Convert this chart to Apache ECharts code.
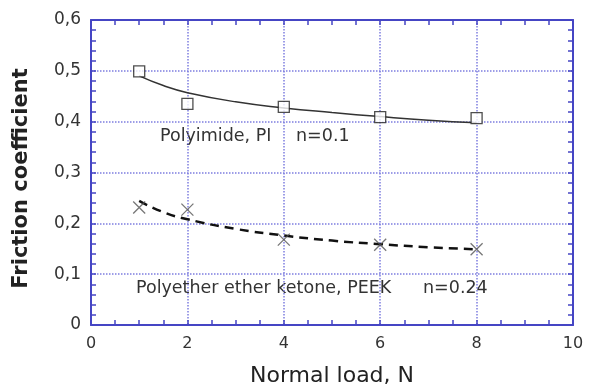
<!DOCTYPE html>
<html><head><meta charset="utf-8">
<script src="https://cdn.jsdelivr.net/npm/echarts@6/dist/echarts.min.js"></script>
<style>html,body{margin:0;padding:0;background:#fff}#c{width:589px;height:392px}</style>
</head><body><div id="c"></div>
<script>
const loads = [1, 2, 4, 6, 8];
const piPoints = [0.499, 0.435, 0.429, 0.409, 0.407];
const peekPoints = [0.231, 0.227, 0.168, 0.158, 0.149];
const fitX = [1, 1.5, 2, 3, 4, 5, 6, 7, 8];
const piFit = [0.490, 0.471, 0.457, 0.439, 0.427, 0.418, 0.410, 0.403, 0.398];
const peekFit = [0.244, 0.222, 0.208, 0.189, 0.176, 0.166, 0.159, 0.153, 0.149];
const xTicks = [0, 2, 4, 6, 8, 10];
const yTicks = [0, 0.1, 0.2, 0.3, 0.4, 0.5, 0.6];

const blue = '#4545c4';
const font = 'DejaVu Sans';
const fmtY = v => v === 0 ? '0' : String(+v.toFixed(1)).replace('.', ',');
const pair = (xs, ys) => xs.map((x, i) => [x, ys[i]]);

const chart = echarts.init(document.getElementById('c'), null, {renderer: 'canvas'});

function tickAxis(kind, position, withLine) {
  const isX = kind === 'x';
  return {
    type: 'value', position: position,
    min: 0, max: isX ? 10 : 0.6, interval: isX ? 0.5 : 0.02,
    axisLine: {show: withLine, onZero: false, lineStyle: {color: blue, width: 2}},
    axisTick: {show: true, inside: true, length: 5, lineStyle: {color: blue, width: 1.5}},
    axisLabel: {show: false}, splitLine: {show: false}
  };
}
const gridLine = {show: true, lineStyle: {color: '#7d7de0', type: 'dotted', width: 1.5}};

chart.setOption({
  animation: false,
  grid: {left: 91, right: 16, top: 20, bottom: 64},
  xAxis: [
    {
      type: 'value', min: 0, max: 10, interval: 2, position: 'bottom',
      axisLine: {show: false, onZero: false}, axisTick: {show: false},
      axisLabel: {color: '#333', fontSize: 16, fontFamily: font, margin: 11},
      splitLine: gridLine,
      name: 'Normal load, N', nameLocation: 'middle', nameGap: 40,
      nameTextStyle: {color: '#222', fontSize: 22, fontFamily: font}
    },
    tickAxis('x', 'bottom', true),
    tickAxis('x', 'top', true)
  ],
  yAxis: [
    {
      type: 'value', min: 0, max: 0.6, interval: 0.1, position: 'left',
      axisLine: {show: false, onZero: false}, axisTick: {show: false},
      axisLabel: {color: '#333', fontSize: 17, fontFamily: font, margin: 10, formatter: fmtY},
      splitLine: gridLine,
      name: 'Friction coefficient', nameLocation: 'middle', nameGap: 59,
      nameTextStyle: {color: '#222', fontSize: 21, fontWeight: 'bold', fontFamily: font, padding: [0, 12, 0, 0]}
    },
    tickAxis('y', 'left', true),
    tickAxis('y', 'right', true)
  ],
  series: [
    {type: 'line', data: pair(fitX, piFit), smooth: true, symbol: 'none',
     lineStyle: {color: '#333', width: 1.5}, z: 2},
    {type: 'line', data: pair(fitX, peekFit), smooth: true, symbol: 'none',
     lineStyle: {color: '#111', width: 2.5, type: [9, 6]}, z: 2},
    {type: 'scatter', data: pair(loads, piPoints), symbol: 'rect', symbolSize: 11,
     itemStyle: {color: '#fff', borderColor: '#222', borderWidth: 1.3}, z: 3},
    {type: 'scatter', data: pair(loads, peekPoints), symbol: 'path://M0,0L10,10M10,0L0,10', symbolSize: 12,
     itemStyle: {color: 'none', borderColor: '#555', borderWidth: 1.3}, z: 3}
  ],
  graphic: [
    {type: 'text', left: 160, top: 127, style: {text: 'Polyimide, PI', fill: '#333', font: '17.5px "DejaVu Sans"'}},
    {type: 'text', left: 296, top: 127, style: {text: 'n=0.1', fill: '#333', font: '17.5px "DejaVu Sans"'}},
    {type: 'text', left: 136, top: 279, style: {text: 'Polyether ether ketone, PEEK', fill: '#333', font: '17.5px "DejaVu Sans"'}},
    {type: 'text', left: 423, top: 279, style: {text: 'n=0.24', fill: '#333', font: '17.5px "DejaVu Sans"'}}
  ]
});
</script></body></html>
